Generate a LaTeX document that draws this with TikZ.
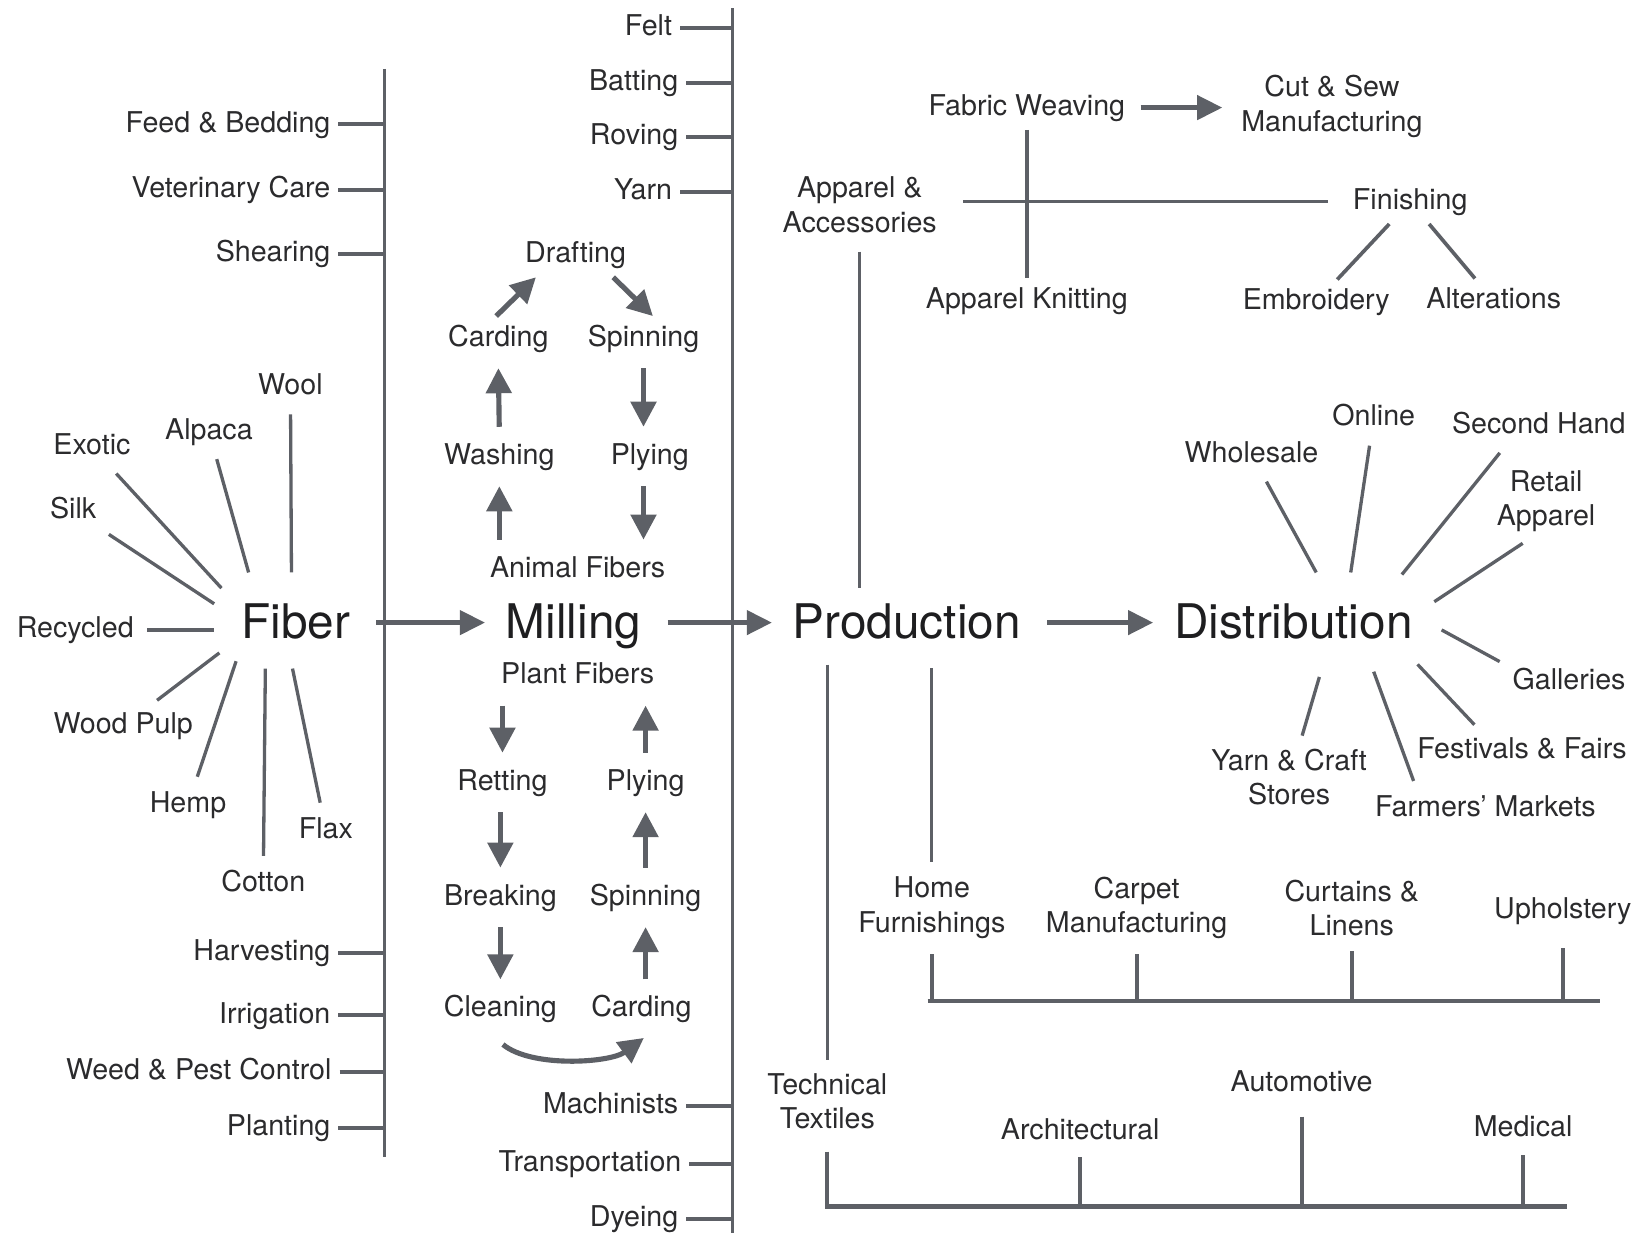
\documentclass[tikz,border=0pt]{standalone}
\usepackage{fontspec}
\setmainfont{TeX Gyre Heros}
\usepackage{tikz}
\usetikzlibrary{arrows.meta,calc}
\usepackage{xcolor}
\definecolor{chaingray}{HTML}{5D6066}
\definecolor{chaintext}{HTML}{2B2B2D}
\definecolor{chainink}{HTML}{1E1E20}
\tikzset{
  leaf/.style={
    text=chaintext,
    font=\fontsize{7.8}{9.4}\selectfont,
    inner sep=2pt,
    text height=6pt,
    text depth=1.8pt,
    align=center
  },
  multileaf/.style={
    leaf,
    text height={},
    text depth={}
  },
  stage/.style={
    text=chainink,
    font=\fontsize{13}{15}\selectfont,
    inner sep=2pt,
    text height=9.5pt,
    text depth=1pt
  },
  spine/.style={
    draw=chaingray,
    line width=0.95pt
  },
  tickline/.style={
    draw=chaingray,
    line width=1.1pt
  },
  rowline/.style={
    draw=chaingray,
    line width=1.2pt
  },
  spoke/.style={
    draw=chaingray,
    line width=0.9pt,
    shorten <=1.5pt
  },
  branchline/.style={
    draw=chaingray,
    line width=0.9pt,
    shorten <=3pt,
    shorten >=2pt
  },
  flowarrow/.style={
    -{Triangle[length=2.4mm,width=2.3mm]},
    draw=chaingray,
    line width=1.2pt,
    shorten <=5pt,
    shorten >=3.5pt
  },
  cyclearrow/.style={
    -{Triangle[length=2.4mm,width=2.4mm]},
    draw=chaingray,
    line width=1.4pt,
    shorten <=2pt,
    shorten >=2pt
  }
}

\begin{document}
\begin{tikzpicture}[x=0.1mm, y=-0.1mm]
\useasboundingbox (0,0) rectangle (1568,1180);

% main chain
\node[stage] (fiber) at (283,596) {Fiber};
\node[stage] (milling) at (549,596) {Milling};
\node[stage] (production) at (868,596) {Production};
\node[stage] (distribution) at (1238,596) {Distribution};
\draw[flowarrow] (fiber) -- (milling);
\draw[flowarrow] (milling) -- (production);
\draw[flowarrow] (production) -- (distribution);

% fiber spine
\coordinate (fibtop) at (368,66);
\coordinate (fibbot) at (368,1108);
\draw[spine] (fibtop) -- (fibbot);
\node[leaf, anchor=east] (feed) at (324,119) {Feed \& Bedding};
\node[leaf, anchor=east] (vet) at (324,182) {Veterinary Care};
\node[leaf, anchor=east] (shear) at (324,243) {Shearing};
\node[leaf, anchor=east] (harvest) at (324,912) {Harvesting};
\node[leaf, anchor=east] (irrig) at (324,972) {Irrigation};
\node[leaf, anchor=east] (weed) at (325,1026) {Weed \& Pest Control};
\node[leaf, anchor=east] (planting) at (324,1080) {Planting};
\draw[tickline] (feed.east) -- (feed.east -| fibtop);
\draw[tickline] (vet.east) -- (vet.east -| fibtop);
\draw[tickline] (shear.east) -- (shear.east -| fibtop);
\draw[tickline] (harvest.east) -- (harvest.east -| fibtop);
\draw[tickline] (irrig.east) -- (irrig.east -| fibtop);
\draw[tickline] (weed.east) -- (weed.east -| fibtop);
\draw[tickline] (planting.east) -- (planting.east -| fibtop);

% fiber kinds
\node[leaf] (wool) at (278,370) {Wool};
\node[leaf] (alpaca) at (200,413) {Alpaca};
\node[leaf] (exotic) at (88,428) {Exotic};
\node[leaf] (silk) at (70,489) {Silk};
\node[leaf] (recycled) at (72,603) {Recycled};
\node[leaf] (woodpulp) at (118,695) {Wood Pulp};
\node[leaf] (hemp) at (180,770) {Hemp};
\node[leaf] (cotton) at (252,846) {Cotton};
\node[leaf] (flax) at (312,795) {Flax};
\coordinate (fhub-wool) at (279,548);
\coordinate (fhub-alpaca) at (238,548);
\coordinate (fhub-exotic) at (212,563);
\coordinate (fhub-silk) at (205,578);
\coordinate (fhub-recycled) at (205,603);
\coordinate (fhub-woodpulp) at (210,625);
\coordinate (fhub-hemp) at (226,633);
\coordinate (fhub-cotton) at (254,640);
\coordinate (fhub-flax) at (280,640);
\draw[spoke] (wool) -- (fhub-wool);
\draw[spoke] (alpaca) -- (fhub-alpaca);
\draw[spoke] (exotic) -- (fhub-exotic);
\draw[spoke] (silk) -- (fhub-silk);
\draw[spoke] (recycled) -- (fhub-recycled);
\draw[spoke] (woodpulp) -- (fhub-woodpulp);
\draw[spoke] (hemp) -- (fhub-hemp);
\draw[spoke] (cotton) -- (fhub-cotton);
\draw[spoke] (flax) -- (fhub-flax);

% milling spine
\coordinate (miltop) at (701,8);
\coordinate (milbot) at (701,1180);
\draw[spine] (miltop) -- (milbot);
\node[leaf, anchor=east] (felt) at (651,27) {Felt};
\node[leaf, anchor=east] (batting) at (657,79) {Batting};
\node[leaf, anchor=east] (roving) at (657,131) {Roving};
\node[leaf, anchor=east] (yarn) at (651,184) {Yarn};
\node[leaf, anchor=east] (machinists) at (657,1059) {Machinists};
\node[leaf, anchor=east] (transport) at (660,1114) {Transportation};
\node[leaf, anchor=east] (dyeing) at (657,1167) {Dyeing};
\draw[tickline] (felt.east) -- (felt.east -| miltop);
\draw[tickline] (batting.east) -- (batting.east -| miltop);
\draw[tickline] (roving.east) -- (roving.east -| miltop);
\draw[tickline] (yarn.east) -- (yarn.east -| miltop);
\draw[tickline] (machinists.east) -- (machinists.east -| miltop);
\draw[tickline] (transport.east) -- (transport.east -| miltop);
\draw[tickline] (dyeing.east) -- (dyeing.east -| miltop);

% animal fibers cycle
\node[leaf] (drafting) at (551,244) {Drafting};
\node[leaf] (carding-a) at (477,324) {Carding};
\node[leaf] (spinning-a) at (616,324) {Spinning};
\node[leaf] (washing) at (478,437) {Washing};
\node[leaf] (plying-a) at (622,437) {Plying};
\node[leaf] (animal) at (553,545) {Animal Fibers};
\draw[cyclearrow] (animal.north -| washing) -- (washing.south);
\draw[cyclearrow] (washing.north) -- (carding-a.south);
\draw[cyclearrow, shorten <=0pt, shorten >=0pt] ($(carding-a.north)+(-2,0)$) -- ($(drafting.south)+(-38,0)$);
\draw[cyclearrow, shorten <=0pt, shorten >=0pt] ($(drafting.south)+(36,0)$) -- ($(spinning-a.north)+(9,0)$);
\draw[cyclearrow] (spinning-a.south) -- (spinning-a.south |- plying-a.north);
\draw[cyclearrow] (spinning-a.south |- plying-a.south) -- (spinning-a.south |- animal.north);

% plant fibers cycle
\node[leaf] (plantf) at (553,647) {Plant Fibers};
\node[leaf] (retting) at (481,749) {Retting};
\node[leaf] (plying-p) at (618,749) {Plying};
\node[leaf] (breaking) at (479,859) {Breaking};
\node[leaf] (spinning-p) at (618,859) {Spinning};
\node[leaf] (cleaning) at (479,966) {Cleaning};
\node[leaf] (carding-p) at (614,966) {Carding};
\draw[cyclearrow] (plantf.south -| retting) -- (retting.north);
\draw[cyclearrow] (retting.south -| breaking) -- (breaking.north);
\draw[cyclearrow] (breaking.south) -- (cleaning.north);
\draw[cyclearrow] ($(cleaning.south)+(-3,8)$) .. controls ($(cleaning.south)+(30,35)$) and ($(carding-p.south)+(-30,30)$) .. ($(carding-p.south)+(8,2)$);
\draw[cyclearrow] (carding-p.north -| spinning-p) -- (spinning-p.south);
\draw[cyclearrow] (spinning-p.north) -- (plying-p.south);
\draw[cyclearrow] (plying-p.north) -- (plying-p.north |- plantf.south);

% apparel branch
\node[multileaf] (apparel) at (823,196) {Apparel \&\\Accessories};
\node[leaf] (weaving) at (983,103) {Fabric Weaving};
\node[multileaf] (cutsew) at (1275,102) {Cut \& Sew\\Manufacturing};
\node[leaf] (knitting) at (983,288) {Apparel Knitting};
\node[leaf] (finishing) at (1350,193) {Finishing};
\node[leaf] (embroidery) at (1260,289) {Embroidery};
\node[leaf] (alterations) at (1430,288) {Alterations};
\draw[branchline] (apparel.south) -- (apparel.south |- production.north);
\draw[branchline, shorten <=5pt, shorten >=4.5pt] (apparel.east |- finishing.west) -- (finishing.west);
\draw[branchline, shorten <=0pt, shorten >=0pt] (weaving) -- (knitting);
\draw[flowarrow, shorten <=2pt, shorten >=3pt] (weaving) -- (weaving -| cutsew.west);
\draw[branchline, shorten <=0pt, shorten >=0pt, line width=1pt] (finishing) -- (embroidery);
\draw[branchline, shorten <=0pt, shorten >=0pt, line width=1pt] (finishing) -- (alterations);

% home furnishings row
\node[multileaf] (home) at (892,869) {Home\\Furnishings};
\node[multileaf] (carpet) at (1088,869) {Carpet\\Manufacturing};
\node[multileaf] (curtains) at (1294,869) {Curtains \&\\Linens};
\node[leaf] (upholstery) at (1496,872) {Upholstery};
\coordinate (homerow-l) at (888,958);
\coordinate (homerow-r) at (1532,958);
\draw[branchline, shorten <=5pt] (home.north |- production.south) -- (home.north);
\draw[rowline] (homerow-l) -- (homerow-r);
\draw[tickline, shorten <=2pt] (home.south) -- (home.south |- homerow-l);
\draw[tickline, shorten <=2pt] (carpet.south) -- (carpet.south |- homerow-l);
\draw[tickline, shorten <=2pt] (curtains.south) -- (curtains.south |- homerow-l);
\draw[tickline, shorten <=4pt] (upholstery.south) -- (upholstery.south |- homerow-l);

% technical textiles row
\node[multileaf] (technical) at (792,1054) {Technical\\Textiles};
\node[leaf] (architectural) at (1034,1083) {Architectural};
\node[leaf] (automotive) at (1246,1037) {Automotive};
\node[leaf] (medical) at (1458,1081) {Medical};
\coordinate (techrow-l) at (790,1155);
\coordinate (techrow-r) at (1500,1155);
\draw[branchline, shorten <=4pt, shorten >=1.5pt] (technical.north |- production.south) -- (technical.north);
\draw[rowline] (techrow-l) -- (techrow-r);
\draw[tickline, shorten <=4pt] (technical.south) -- (technical.south |- techrow-l);
\draw[tickline, shorten <=1pt] (architectural.south) -- (architectural.south |- techrow-l);
\draw[tickline, shorten <=3pt] (automotive.south) -- (automotive.south |- techrow-l);
\draw[tickline, shorten <=1pt] (medical.south) -- (medical.south |- techrow-l);

% distribution outlets
\node[leaf] (wholesale) at (1198,435) {Wholesale};
\node[leaf] (online) at (1315,400) {Online};
\node[leaf] (secondhand) at (1473,408) {Second Hand};
\node[multileaf] (retail) at (1480,480) {Retail\\Apparel};
\node[leaf] (galleries) at (1502,653) {Galleries};
\node[leaf] (festivals) at (1457,719) {Festivals \& Fairs};
\node[leaf] (farmers) at (1422,774) {Farmers' Markets};
\node[multileaf] (yarncraft) at (1234,744) {Yarn \& Craft\\Stores};
\coordinate (dhub-wholesale) at (1260,548);
\coordinate (dhub-online) at (1293,548);
\coordinate (dhub-secondhand) at (1342,550);
\coordinate (dhub-retail) at (1373,576);
\coordinate (dhub-galleries) at (1380,603);
\coordinate (dhub-festivals) at (1357,636);
\coordinate (dhub-farmers) at (1315,643);
\coordinate (dhub-yarncraft) at (1263,648);
\draw[spoke] (wholesale) -- (dhub-wholesale);
\draw[spoke] (online) -- (dhub-online);
\draw[spoke] ($(secondhand.south)+(-34,0)$) -- (dhub-secondhand);
\draw[spoke] ($(retail.south)+(-18,0)$) -- (dhub-retail);
\draw[spoke] ($(galleries.west)!.8!(galleries.north west)$) -- (dhub-galleries);
\draw[spoke] ($(festivals.north)+(-42,0)$) -- (dhub-festivals);
\draw[spoke] ($(farmers.north)+(-67,0)$) -- (dhub-farmers);
\draw[spoke] ($(yarncraft.north)+(11,0)$) -- (dhub-yarncraft);
\end{tikzpicture}
\end{document}
